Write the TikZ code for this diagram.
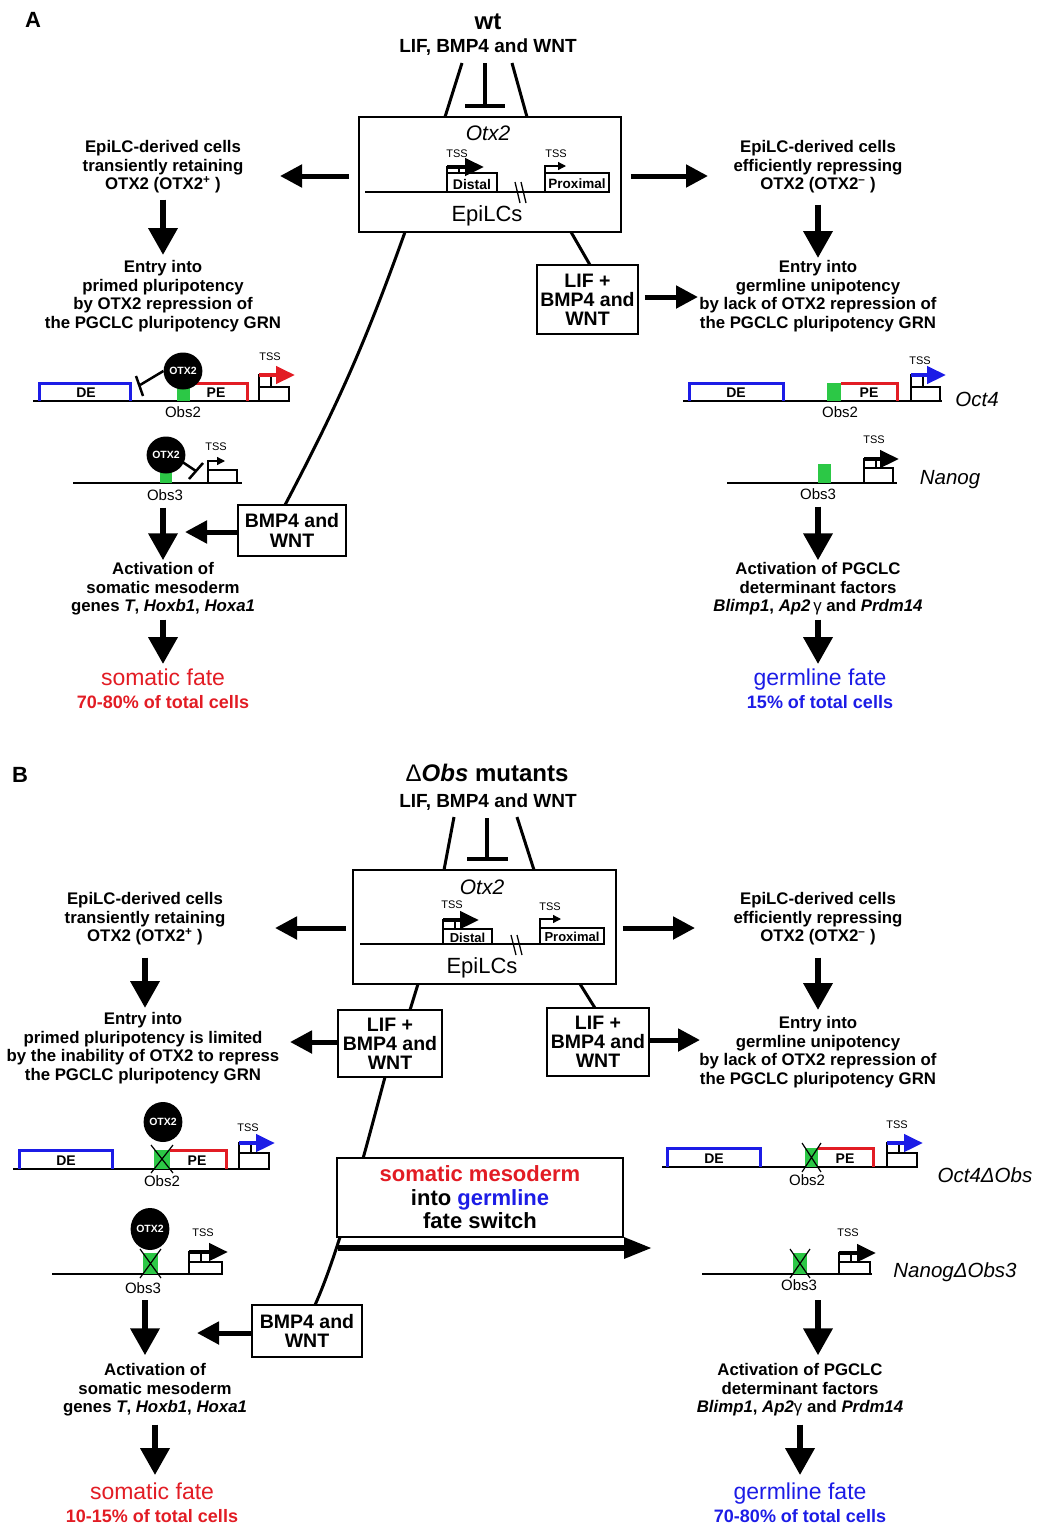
\documentclass[tikz,border=0pt]{standalone}
\usepackage{fontspec}
\setmainfont{Liberation Sans}
\usetikzlibrary{arrows.meta,shapes.geometric,backgrounds}
\definecolor{myred}{RGB}{226,28,36}
\definecolor{myblue}{RGB}{28,28,230}
\definecolor{mygreen}{RGB}{44,200,70}
\newcommand{\fs}[2]{\fontsize{#1}{#2}\selectfont}
\tikzset{
  lbl/.style={align=center, inner sep=0pt, font=\bfseries\fs{16.8}{18.6}},
  cbox/.style={draw, line width=1.6pt, fill=white, align=center, inner sep=0pt, font=\bfseries\fs{19.5}{19.2}},
  conn/.style={line width=3pt},
  harr/.style={line width=5pt, -{Triangle[length=22pt,width=22pt]}},
  varr/.style={line width=6.5pt, -{Triangle[length=27pt,width=28pt]}},
  dna/.style={line width=1.8pt},
  brkt/.style={line width=3pt, line join=miter},
  tsslbl/.style={inner sep=0pt, font=\fs{11}{11}},
  glbl/.style={inner sep=0pt, font=\bfseries\fs{14}{14}},
  obslbl/.style={inner sep=0pt, font=\fs{15}{15}},
  otxnode/.style={ellipse, fill=black, inner sep=0pt, minimum width=32pt, minimum height=37pt, text=white, font=\bfseries\fs{10.5}{10.5}},
  genename/.style={inner sep=0pt, font=\itshape\fs{20.5}{20.5}},
  fatelbl/.style={inner sep=0pt, anchor=base, font=\fs{23}{23}},
  pctlbl/.style={inner sep=0pt, anchor=base, font=\bfseries\fs{18}{18}},
  bigbox/.style={draw, line width=1.6pt, fill=white, inner sep=0pt},
}
\newcommand{\bigtss}[7]{%
  \draw[line width=1.3pt, fill=white] (#1,#2) rectangle (#3,#4);
  \draw[line width=1.1pt] (#1,#5) rectangle (#1+12,#2);
  \draw[#7, line width=4.5pt, -{Triangle[length=19pt,width=17pt]}] (#1,#5) -- (#6,#5);
}
\newcommand{\smalltss}[6]{%
  \draw[line width=1.3pt] (#1,#2) rectangle (#3,#4);
  \draw[line width=1.3pt, -{Triangle[length=8pt,width=8pt]}] (#1,#2) -- (#1,#5) -- (#6,#5);
}
\newcommand{\delx}[4]{\draw[line width=1.2pt] (#1,#2) -- (#3,#4) (#1,#4) -- (#3,#2);}
\begin{document}
\begin{tikzpicture}[x=1pt,y=-1pt]
\useasboundingbox (0,0) rectangle (1038,1526);

% =================== PANEL A ===================
\node[font=\bfseries\fs{22}{22}, inner sep=0] (labA) at (33,20) {A};
\node[font=\bfseries\fs{24}{24}, inner sep=0] (wtA) at (488,22) {wt};
\node[font=\bfseries\fs{19}{19}, inner sep=0] (sigA) at (488,47) {LIF, BMP4 and WNT};

\node[bigbox, minimum width=262pt, minimum height=115pt] (boxA) at (490,174.5) {};
\node[font=\itshape\fs{21}{21}, inner sep=0] (otxA) at (488,133) {Otx2};
\node[font=\fs{22}{22}, inner sep=0] (epiA) at (487,216) {EpiLCs};
\draw[dna] (365,192) -- (609,192);
\draw[line width=1.3pt] (515,182) -- (520,203) (521,182) -- (526,203);
\bigtss{447}{173}{497}{192}{167}{484}{black}
\node[glbl] (distA) at (472,184) {Distal};
\node[tsslbl] at (457,154) {TSS};
\draw[line width=1.3pt, fill=white] (545,173) rectangle (609,192);
\node[glbl, font=\bfseries\fs{13.5}{13.5}] (proxA) at (577,184) {Proximal};
\draw[line width=1.3pt, -{Triangle[length=8pt,width=8pt]}] (545,173) -- (545,166) -- (566,166);
\node[tsslbl] at (556,154) {TSS};

% left column A
\node[lbl] (t1A) at (163,167) {EpiLC-derived cells\\transiently retaining\\OTX2 (OTX2\textsuperscript{+} )};
\node[lbl] (t2A) at (163,296) {Entry into\\primed pluripotency\\by OTX2 repression of\\the PGCLC pluripotency GRN};
\node[lbl] (actA) at (163,589) {Activation of\\somatic mesoderm\\genes \textit{T}, \textit{Hoxb1}, \textit{Hoxa1}};
\node[fatelbl, text=myred] (fateA) at (163,685) {somatic fate};
\node[pctlbl, text=myred] (pctA) at (163,708) {70-80\% of total cells};

% right column A
\node[lbl] (t1RA) at (818,167) {EpiLC-derived cells\\efficiently repressing\\OTX2 (OTX2\textsuperscript{–} )};
\node[lbl] (t2RA) at (818,296) {Entry into\\germline unipotency\\by lack of OTX2 repression of\\the PGCLC pluripotency GRN};
\node[lbl] (actRA) at (818,589) {Activation of PGCLC\\determinant factors\\\textit{Blimp1}, \textit{Ap2}\,{\mdseries γ} and \textit{Prdm14}};
\node[fatelbl, text=myblue] (fateRA) at (820,685) {germline fate};
\node[pctlbl, text=myblue] (pctRA) at (820,708) {15\% of total cells};

\node[cbox, minimum width=101pt, minimum height=69pt] (lifA) at (587.5,299.5) {LIF +\\BMP4 and\\WNT};
\node[cbox, minimum width=108pt, minimum height=51pt] (bmpA) at (292,530.5) {BMP4 and\\WNT};

% construct Obs2 (A left)
\draw[dna] (33,401) -- (290,401);
\draw[myblue,brkt] (39,401) |- (130,383) -- (130,401);
\node[glbl] at (86,393) {DE};
\fill[mygreen] (177,388) rectangle (190,401);
\draw[myred,brkt] (190,383) -- (247,383) -- (247,401);
\node[glbl] at (216,393) {PE};
\node[otxnode] (otxA2) at (183,371) {OTX2};
\draw[line width=2.5pt] (otxA2.west) -- (140,385);
\draw[line width=2.5pt] (136,376) -- (143,396);
\bigtss{259}{387}{289}{401}{375}{295}{myred}
\node[tsslbl] at (270,357) {TSS};
\node[obslbl] (obs2A) at (183,412) {Obs2};

% construct Obs3 (A left)
\draw[dna] (73,483) -- (242,483);
\fill[mygreen] (160,472) rectangle (172,483);
\node[otxnode] (otxA3) at (166,455) {OTX2};
\draw[line width=2.5pt] (181,461) -- (196,471);
\draw[line width=2.5pt] (189,479) -- (203,463);
\smalltss{208}{470}{237}{483}{461}{225}
\node[tsslbl] at (216,447) {TSS};
\node[obslbl] (obs3A) at (165,495) {Obs3};

% construct Oct4 (A right)
\draw[dna] (683,401) -- (942,401);
\draw[myblue,brkt] (689,401) |- (783,383) -- (783,401);
\node[glbl] at (736,393) {DE};
\fill[mygreen] (827,383) rectangle (841,401);
\draw[myred,brkt] (841,383) -- (897,383) -- (897,401);
\node[glbl] at (869,393) {PE};
\bigtss{911}{387}{940}{401}{375}{946}{myblue}
\node[tsslbl] at (920,361) {TSS};
\node[obslbl] (obs2RA) at (840,412) {Obs2};
\node[genename] (oct4A) at (977,399) {Oct4};

% construct Nanog (A right)
\draw[dna] (727,483) -- (897,483);
\fill[mygreen] (818,464) rectangle (831,483);
\bigtss{864}{468}{893}{483}{459}{899}{black}
\node[tsslbl] at (874,440) {TSS};
\node[obslbl] (obs3RA) at (818,494) {Obs3};
\node[genename] (nanogA) at (950,480) {Nanog};

% coordinates for connector ends A
\coordinate (sA1) at (462,63); \coordinate (sA1e) at (445,117);
\coordinate (sA2) at (485,63); \coordinate (sA2e) at (485,106);
\coordinate (sA3) at (512,63); \coordinate (sA3e) at (527,117);
\coordinate (cA1) at (405,232); \coordinate (cA1e) at (285,505);
\coordinate (cA2) at (571,232); \coordinate (cA2e) at (590,265);
\coordinate (aAL) at (280,176); \coordinate (aAR) at (708,176);
\coordinate (aLif) at (698,297); \coordinate (aBmp) at (185,532);

\begin{scope}[on background layer]
  \draw[conn] (sA1) -- (sA1e);
  \draw[conn] (sA3) -- (sA3e);
  \draw[conn] (cA1) to[bend left=4] (cA1e);
  \draw[conn] (cA2) -- (cA2e);
\end{scope}
\draw[line width=3.5pt] (sA2) -- (sA2e);
\draw[line width=3.5pt] (465,106) -- (505,106);

\draw[harr, shorten <=9pt] (boxA.west |- aAL) -- (aAL);
\draw[harr, shorten <=9pt] (boxA.east |- aAR) -- (aAR);
\draw[harr, shorten <=6pt] (lifA.east |- aLif) -- (aLif);
\draw[harr] (bmpA.west |- aBmp) -- (aBmp);
\draw[varr, shorten <=6pt, shorten >=5pt] (t1A) -- (t2A);
\draw[varr, shorten <=11pt, shorten >=2pt] (t1RA) -- (t2RA);
\draw[varr, shorten <=7pt, shorten >=2pt] (obs3A.south -| actA.north) -- (actA.north);
\draw[varr, shorten <=7pt, shorten >=2pt] (obs3RA.south -| actRA.north) -- (actRA.north);
\draw[varr, shorten <=4pt, shorten >=4pt] (actA.south) -- (actA.south |- fateA.north);
\draw[varr, shorten <=4pt, shorten >=4pt] (actRA.south) -- (actRA.south |- fateRA.north);

% =================== PANEL B ===================
\node[font=\bfseries\fs{22}{22}, inner sep=0] (labB) at (20,775) {B};
\node[font=\bfseries\fs{24}{24}, inner sep=0] (titB) at (487,773) {{\mdseries Δ}\textit{Obs} mutants};
\node[font=\bfseries\fs{19}{19}, inner sep=0] (sigB) at (488,802) {LIF, BMP4 and WNT};

\node[bigbox, minimum width=263pt, minimum height=114pt] (boxB) at (484.5,927) {};
\node[font=\itshape\fs{21}{21}, inner sep=0] (otxB) at (482,887) {Otx2};
\node[font=\fs{22}{22}, inner sep=0] (epiB) at (482,968) {EpiLCs};
\draw[dna] (360,944) -- (603,944);
\draw[line width=1.3pt] (511,935) -- (516,955) (517,935) -- (522,955);
\bigtss{443}{929}{492}{944}{920}{479}{black}
\node[glbl, font=\bfseries\fs{13}{13}] (distB) at (467.5,937.5) {Distal};
\node[tsslbl] at (452,905) {TSS};
\draw[line width=1.3pt, fill=white] (540,928) rectangle (604,944);
\node[glbl, font=\bfseries\fs{13}{13}] (proxB) at (572,936.5) {Proximal};
\draw[line width=1.3pt, -{Triangle[length=8pt,width=8pt]}] (540,928) -- (540,919) -- (561,919);
\node[tsslbl] at (550,907) {TSS};

% left column B
\node[lbl] (t1B) at (145,919) {EpiLC-derived cells\\transiently retaining\\OTX2 (OTX2\textsuperscript{+} )};
\node[lbl] (t2B) at (143,1048) {Entry into\\primed pluripotency is limited\\by the inability of OTX2 to repress\\the PGCLC pluripotency GRN};
\node[lbl] (actB) at (155,1390) {Activation of\\somatic mesoderm\\genes \textit{T}, \textit{Hoxb1}, \textit{Hoxa1}};
\node[fatelbl, text=myred] (fateB) at (152,1499) {somatic fate};
\node[pctlbl, text=myred] (pctB) at (152,1522) {10-15\% of total cells};

% right column B
\node[lbl] (t1RB) at (818,919) {EpiLC-derived cells\\efficiently repressing\\OTX2 (OTX2\textsuperscript{–} )};
\node[lbl] (t2RB) at (818,1052) {Entry into\\germline unipotency\\by lack of OTX2 repression of\\the PGCLC pluripotency GRN};
\node[lbl] (actRB) at (800,1390) {Activation of PGCLC\\determinant factors\\\textit{Blimp1}, \textit{Ap2}{\mdseries γ} and \textit{Prdm14}};
\node[fatelbl, text=myblue] (fateRB) at (800,1499) {germline fate};
\node[pctlbl, text=myblue] (pctRB) at (800,1522) {70-80\% of total cells};

\node[cbox, minimum width=104pt, minimum height=67pt] (lifLB) at (390,1043.5) {LIF +\\BMP4 and\\WNT};
\node[cbox, minimum width=102pt, minimum height=68pt] (lifRB) at (598,1042) {LIF +\\BMP4 and\\WNT};
\node[cbox, minimum width=110pt, minimum height=52pt] (bmpB) at (307,1331) {BMP4 and\\WNT};
\node[cbox, minimum width=286pt, minimum height=79pt, font=\bfseries\fs{22}{23.5}] (swB) at (480,1197.5)
  {\textcolor{myred}{somatic mesoderm}\\into \textcolor{myblue}{germline}\\fate switch};

% construct Obs2 (B left)
\draw[dna] (13,1169) -- (270,1169);
\draw[myblue,brkt] (19,1169) |- (112,1150) -- (112,1169);
\node[glbl] at (66,1161) {DE};
\fill[mygreen] (154,1150) rectangle (170,1169);
\draw[myred,brkt] (170,1150) -- (226,1150) -- (226,1169);
\delx{151}{1145}{173}{1173}
\node[glbl] at (197,1161) {PE};
\node[otxnode, minimum width=30pt, minimum height=40pt] (otxB2) at (163,1122) {OTX2};
\bigtss{239}{1153}{269}{1169}{1143}{275}{myblue}
\node[tsslbl] at (248,1128) {TSS};
\node[obslbl] (obs2B) at (162,1181) {Obs2};

% construct Obs3 (B left)
\draw[dna] (52,1274) -- (222,1274);
\fill[mygreen] (143,1253) rectangle (158,1274);
\delx{140}{1249}{161}{1278}
\node[otxnode, minimum width=31pt, minimum height=42pt] (otxB3) at (150,1229) {OTX2};
\bigtss{189}{1262}{222}{1274}{1252}{228}{black}
\node[tsslbl] at (203,1233) {TSS};
\node[obslbl] (obs3B) at (143,1288) {Obs3};

% construct Oct4dObs (B right)
\draw[dna] (662,1167) -- (918,1167);
\draw[myblue,brkt] (667,1167) |- (760,1148) -- (760,1167);
\node[glbl] at (714,1159) {DE};
\fill[mygreen] (805,1148) rectangle (818,1167);
\draw[myred,brkt] (818,1148) -- (873,1148) -- (873,1167);
\delx{802}{1143}{821}{1172}
\node[glbl] at (845,1159) {PE};
\bigtss{887}{1153}{917}{1167}{1143}{923}{myblue}
\node[tsslbl] at (897,1125) {TSS};
\node[obslbl] (obs2RB) at (807,1180) {Obs2};
\node[genename] (oct4B) at (985,1175) {Oct4ΔObs};

% construct NanogdObs3 (B right)
\draw[dna] (702,1274) -- (872,1274);
\fill[mygreen] (793,1253) rectangle (807,1274);
\delx{790}{1249}{810}{1278}
\bigtss{839}{1262}{870}{1274}{1253}{876}{black}
\node[tsslbl] at (848,1233) {TSS};
\node[obslbl] (obs3RB) at (799,1285) {Obs3};
\node[genename] (nanogB) at (955,1272) {NanogΔObs3};

% coordinates for connector ends B
\coordinate (sB1) at (454,817); \coordinate (sB1e) at (444,870);
\coordinate (sB2) at (487,818); \coordinate (sB2e) at (487,859);
\coordinate (sB3) at (517,817); \coordinate (sB3e) at (534,870);
\coordinate (cB1) at (418,984); \coordinate (cB1e) at (410,1010);
\coordinate (cB2) at (580,984); \coordinate (cB2e) at (595,1008);
\coordinate (cB3) at (385,1077); \coordinate (cB3e) at (315,1305);
\coordinate (aBL) at (275,928); \coordinate (aBR) at (695,928);
\coordinate (aLifL) at (290,1042); \coordinate (aLifR) at (700,1040);
\coordinate (aBmpB) at (197,1333);
\coordinate (swS) at (338,1248); \coordinate (swE) at (652,1248);
\coordinate (bR1) at (818,1300); \coordinate (bL1) at (145,1300);

\begin{scope}[on background layer]
  \draw[conn] (sB1) -- (sB1e);
  \draw[conn] (sB3) -- (sB3e);
  \draw[conn] (cB1) -- (cB1e);
  \draw[conn] (cB2) -- (cB2e);
  \draw[conn] (cB3) .. controls (368,1140) and (340,1250) .. (cB3e);
\end{scope}
\draw[line width=3.5pt] (sB2) -- (sB2e);
\draw[line width=3.5pt] (467,859) -- (508,859);

\draw[harr, shorten <=6pt] (boxB.west |- aBL) -- (aBL);
\draw[harr, shorten <=6pt] (boxB.east |- aBR) -- (aBR);
\draw[harr] (lifLB.west |- aLifL) -- (aLifL);
\draw[harr] (lifRB.east |- aLifR) -- (aLifR);
\draw[harr] (bmpB.west |- aBmpB) -- (aBmpB);
\draw[line width=6pt, -{Triangle[length=28pt,width=20pt]}] (swS) -- (swE);
\draw[varr, shorten <=12pt, shorten >=4pt] (t1B) -- (t1B |- t2B.north);
\draw[varr, shorten <=12pt, shorten >=6pt] (t1RB) -- (t2RB);
\draw[varr, shorten >=8pt] (bL1) -- (bL1 |- actB.north);
\draw[varr, shorten >=8pt] (bR1) -- (bR1 |- actRB.north);
\draw[varr, shorten <=8pt, shorten >=7pt] (actB.south) -- (actB.south |- fateB.north);
\draw[varr, shorten <=8pt, shorten >=7pt] (actRB.south) -- (actRB.south |- fateRB.north);
\end{tikzpicture}
\end{document}
